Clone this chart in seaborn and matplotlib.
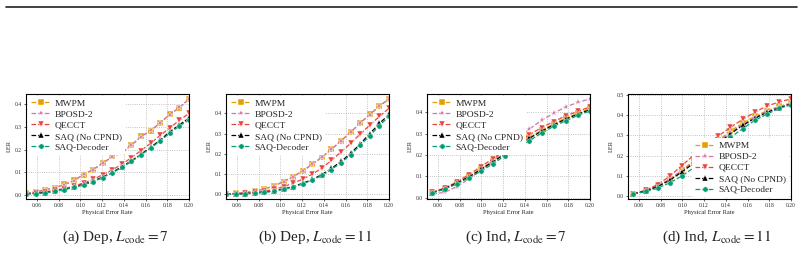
import numpy as np
import matplotlib.pyplot as plt
import matplotlib.lines as mlines
import seaborn as sns

# Taux d'erreur physique
x_dep = np.linspace(0.05, 0.20, 18)
x_ind = np.linspace(0.055, 0.20, 14)

decoders = ["MWPM", "BPOSD-2", "QECCT", "SAQ (No CPND)", "SAQ-Decoder"]

# (a) Dep, L=7
dep7_mwpm = [0.010, 0.015, 0.024, 0.033, 0.048, 0.065, 0.090, 0.112, 0.140, 0.170, 0.188, 0.218, 0.258, 0.282, 0.315, 0.355, 0.382, 0.422]
dep7_bposd = [0.010, 0.016, 0.024, 0.034, 0.047, 0.064, 0.092, 0.113, 0.141, 0.168, 0.186, 0.220, 0.256, 0.284, 0.317, 0.353, 0.384, 0.420]
dep7_qecct = [0.008, 0.011, 0.016, 0.022, 0.030, 0.040, 0.054, 0.070, 0.090, 0.112, 0.135, 0.165, 0.196, 0.228, 0.262, 0.295, 0.328, 0.358]
dep7_saq_nc = [0.006, 0.009, 0.012, 0.018, 0.026, 0.036, 0.048, 0.062, 0.080, 0.101, 0.125, 0.151, 0.180, 0.210, 0.242, 0.278, 0.308, 0.338]
dep7_saq = [0.005, 0.008, 0.011, 0.017, 0.025, 0.035, 0.046, 0.060, 0.078, 0.099, 0.122, 0.148, 0.177, 0.207, 0.238, 0.272, 0.303, 0.330]

# (b) Dep, L=11
dep11_mwpm = [0.003, 0.005, 0.009, 0.015, 0.026, 0.042, 0.062, 0.088, 0.116, 0.148, 0.183, 0.222, 0.264, 0.308, 0.352, 0.395, 0.437, 0.472]
dep11_bposd = [0.003, 0.006, 0.010, 0.016, 0.027, 0.043, 0.063, 0.087, 0.117, 0.149, 0.184, 0.223, 0.265, 0.306, 0.353, 0.394, 0.436, 0.470]
dep11_qecct = [0.002, 0.003, 0.006, 0.010, 0.016, 0.025, 0.038, 0.055, 0.076, 0.100, 0.130, 0.168, 0.210, 0.252, 0.298, 0.342, 0.385, 0.425]
dep11_saq_nc = [0.001, 0.002, 0.004, 0.007, 0.011, 0.018, 0.027, 0.039, 0.055, 0.074, 0.098, 0.128, 0.163, 0.202, 0.250, 0.300, 0.350, 0.395]
dep11_saq = [0.001, 0.002, 0.003, 0.006, 0.010, 0.016, 0.025, 0.037, 0.052, 0.071, 0.094, 0.123, 0.157, 0.196, 0.242, 0.290, 0.340, 0.385]

# (c) Ind, L=7
ind7_mwpm = [0.024, 0.043, 0.070, 0.100, 0.135, 0.172, 0.210, 0.248, 0.283, 0.316, 0.346, 0.373, 0.395, 0.418]
ind7_bposd = [0.016, 0.025, 0.051, 0.087, 0.128, 0.175, 0.219, 0.273, 0.321, 0.362, 0.395, 0.425, 0.446, 0.463]
ind7_qecct = [0.025, 0.045, 0.073, 0.108, 0.145, 0.183, 0.222, 0.260, 0.295, 0.328, 0.356, 0.383, 0.404, 0.425]
ind7_saq_nc = [0.023, 0.042, 0.068, 0.097, 0.132, 0.168, 0.205, 0.243, 0.278, 0.311, 0.341, 0.368, 0.391, 0.412]
ind7_saq = [0.022, 0.040, 0.064, 0.093, 0.124, 0.159, 0.197, 0.234, 0.267, 0.302, 0.334, 0.360, 0.385, 0.406]

# (d) Ind, L=11
ind11_mwpm = [0.009, 0.024, 0.048, 0.083, 0.127, 0.175, 0.225, 0.275, 0.322, 0.362, 0.395, 0.423, 0.445, 0.462]
ind11_bposd = [0.009, 0.024, 0.047, 0.081, 0.123, 0.170, 0.220, 0.268, 0.315, 0.355, 0.390, 0.420, 0.442, 0.460]
ind11_qecct = [0.010, 0.027, 0.055, 0.097, 0.150, 0.203, 0.250, 0.297, 0.340, 0.380, 0.415, 0.447, 0.466, 0.483]
ind11_saq_nc = [0.008, 0.022, 0.045, 0.077, 0.118, 0.163, 0.213, 0.262, 0.308, 0.350, 0.385, 0.415, 0.437, 0.457]
ind11_saq = [0.007, 0.021, 0.038, 0.064, 0.098, 0.140, 0.188, 0.236, 0.290, 0.334, 0.375, 0.406, 0.435, 0.453]

captions = [r"(a) Dep, $L_{\mathrm{code}}=7$", r"(b) Dep, $L_{\mathrm{code}}=11$",
            r"(c) Ind, $L_{\mathrm{code}}=7$", r"(d) Ind, $L_{\mathrm{code}}=11$"]

panels = [
    (x_dep, [dep7_mwpm, dep7_bposd, dep7_qecct, dep7_saq_nc, dep7_saq], "upper left"),
    (x_dep, [dep11_mwpm, dep11_bposd, dep11_qecct, dep11_saq_nc, dep11_saq], "upper left"),
    (x_ind, [ind7_mwpm, ind7_bposd, ind7_qecct, ind7_saq_nc, ind7_saq], "upper left"),
    (x_ind, [ind11_mwpm, ind11_bposd, ind11_qecct, ind11_saq_nc, ind11_saq], "lower right"),
]

couleurs = ["#E69F00", "#CC79A7", "#E8473C", "#000000", "#009E73"]
marqueurs = ["s", "*", "v", "^", "o"]

sns.set_theme(style="whitegrid")
plt.rcParams.update({
    "font.family": "Liberation Serif",
    "mathtext.fontset": "stix",
    "axes.edgecolor": "black",
    "axes.linewidth": 0.8,
    "grid.linestyle": ":",
    "grid.color": "#b0b0b0",
    "grid.linewidth": 0.6,
    "xtick.bottom": True,
    "ytick.left": True,
    "xtick.major.size": 1.5,
    "ytick.major.size": 1.5,
    "xtick.major.width": 0.5,
    "ytick.major.width": 0.5,
    "xtick.major.pad": 1.5,
    "ytick.major.pad": 1.5,
})

W, H = 804, 254
fig = plt.figure(figsize=(W / 100, H / 100), dpi=100)

lefts = [26, 226, 427, 628]
for k, (xs, series, loc) in enumerate(panels):
    ax = fig.add_axes([lefts[k] / W, (H - 199) / H, 163 / W, 105 / H])
    for name, ys, c, m in zip(decoders, series, couleurs, marqueurs):
        sns.lineplot(x=xs, y=ys, ax=ax, color=c, marker=m, linestyle="--",
                     linewidth=0.9, markersize=3.8 if m != "*" else 4.8,
                     markeredgewidth=0.3, label=name)
    ax.set_xlim(0.05, 0.20)
    ax.set_xticks(np.arange(0.06, 0.201, 0.02))
    ax.tick_params(labelsize=4)
    ax.set_xlabel("Physical Error Rate", fontsize=4.6, labelpad=1)
    ax.set_ylabel("LER", fontsize=4.6, labelpad=2)
    ax.legend(loc=loc, fontsize=6.8, frameon=True, framealpha=1,
              edgecolor="none", handlelength=2.0, borderpad=0.35,
              labelspacing=0.25, handletextpad=0.5, borderaxespad=0.2)
    fig.text((lefts[k] - 11 + 100) / W, 1 - 237 / H, captions[k],
             ha="center", va="center", fontsize=11)

fig.add_artist(mlines.Line2D([6 / W, 797 / W], [1 - 6.5 / H, 1 - 6.5 / H],
                             color="#222222", linewidth=1.2))

fig.savefig("out.png", dpi=100)
